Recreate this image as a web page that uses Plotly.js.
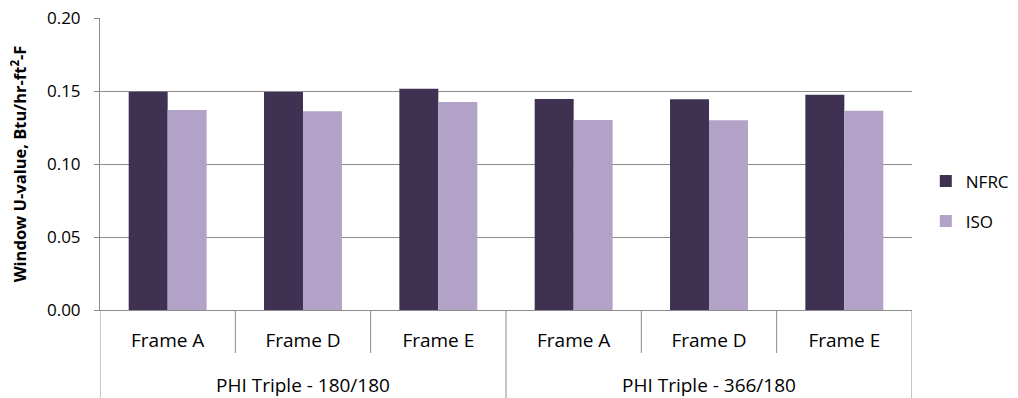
<!DOCTYPE html>
<html>
<head>
<meta charset="utf-8">
<script src="https://cdn.plot.ly/plotly-3.0.1.min.js"></script>
<style>html,body{margin:0;padding:0;background:#fff;}#chart{width:1018px;height:398px;}</style>
</head>
<body>
<div id="chart"></div>
<script>
const groups = ["PHI Triple - 180/180","PHI Triple - 180/180","PHI Triple - 180/180","PHI Triple - 366/180","PHI Triple - 366/180","PHI Triple - 366/180"];
const frames = ["Frame A","Frame D","Frame E","Frame A","Frame D","Frame E"];
const nfrc = [0.1495, 0.1493, 0.1516, 0.1445, 0.1443, 0.1475];
const iso = [0.1370, 0.1362, 0.1425, 0.1302, 0.1300, 0.1365];

const FAM = "Open Sans, Liberation Sans, sans-serif";
const GRAY = "#8c8c8c";
const idx = frames.map((_, i) => i);

const data = [
  {type: "bar", name: "NFRC", legendgroup: "a", x: idx, y: nfrc, marker: {color: "#3F3151"}},
  {type: "bar", name: "ISO", legendgroup: "b", x: idx, y: iso, marker: {color: "#B2A2C7"}}
];

// Category boundaries and group labels derived from the arrays
const shapes = [];
const annotations = [];
const innerDepth = -43 / 292, outerDepth = -88 / 292;
for (let b = 0; b <= frames.length; b++) {
  const isOuter = b === 0 || b === frames.length || groups[b] !== groups[b - 1];
  shapes.push({type: "line", xref: "x", yref: "paper", x0: b - 0.5, x1: b - 0.5, y0: 0, y1: isOuter ? outerDepth : innerDepth, line: {color: GRAY, width: 1}});
}
const uniqueGroups = [...new Set(groups)];
uniqueGroups.forEach(g => {
  const members = idx.filter(i => groups[i] === g);
  const mid = (members[0] + members[members.length - 1]) / 2;
  annotations.push({xref: "x", yref: "paper", x: mid, y: -75 / 292, yanchor: "middle", text: g, showarrow: false, font: {family: FAM, size: 19, color: "#000"}});
});

const layout = {
  width: 1018, height: 398,
  margin: {l: 100, r: 106, t: 18, b: 88, autoexpand: false},
  paper_bgcolor: "#fff", plot_bgcolor: "#fff",
  font: {family: FAM, size: 17, color: "#000"},
  barmode: "group",
  bargap: 0.424, bargroupgap: 0,
  showlegend: true,
  legend: {x: 1.017, y: 0.372, xanchor: "left", yanchor: "middle", font: {family: FAM, size: 17, color: "#000"}, itemwidth: 30, tracegroupgap: 15},
  shapes: shapes,
  annotations: annotations,
  xaxis: {
    range: [-0.5, frames.length - 0.5],
    tickvals: idx, ticktext: frames,
    ticks: "", showgrid: false, zeroline: false,
    showline: true, linecolor: GRAY,
    ticklabelstandoff: 13,
    tickfont: {family: FAM, size: 19, color: "#000"}
  },
  yaxis: {
    range: [0, 0.2], dtick: 0.05, tickformat: ".2f",
    showgrid: true, gridcolor: GRAY, gridwidth: 1,
    showline: true, linecolor: GRAY,
    ticks: "outside", ticklen: 5, tickcolor: GRAY,
    ticklabelstandoff: 10,
    zeroline: false,
    tickfont: {family: FAM, size: 17, color: "#000"},
    title: {text: "<b>Window U-value, Btu/hr-ft<sup>2</sup>-F</b>", font: {family: FAM, size: 16.5, color: "#000"}, standoff: 16}
  }
};

Plotly.newPlot("chart", data, layout, {displayModeBar: false, staticPlot: true});
</script>
</body>
</html>
